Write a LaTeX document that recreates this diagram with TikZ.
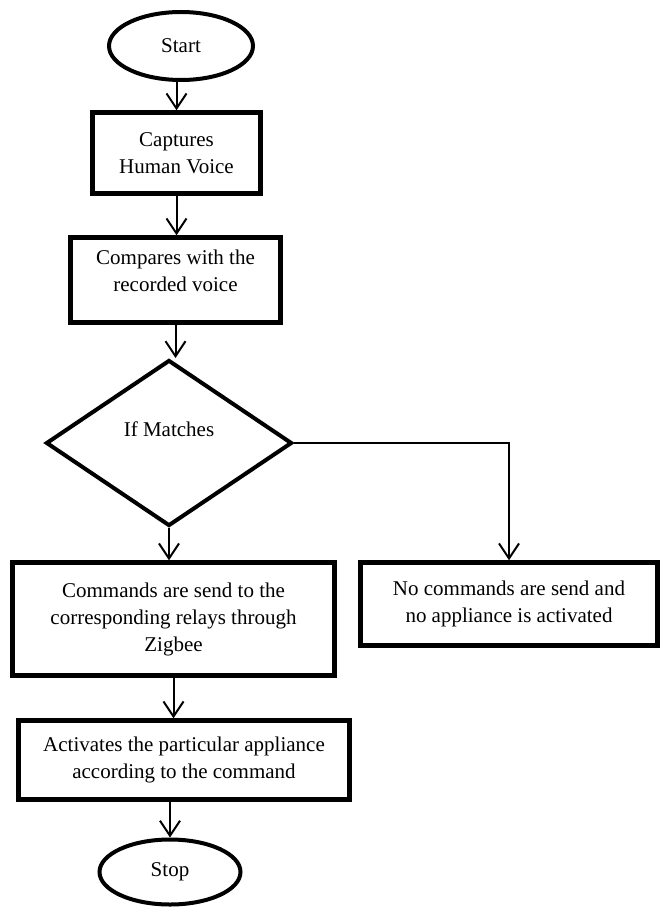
\documentclass[tikz,border=0pt]{standalone}
\usepackage{fontspec}
\setmainfont{Liberation Serif}
\usetikzlibrary{shapes.geometric,arrows.meta}
\begin{document}
\begin{tikzpicture}[x=1pt,y=-1pt,
  every node/.style={font=\fontsize{21}{27}\selectfont, align=center, inner sep=0pt},
  procbox/.style={draw, rectangle, line width=4.5pt},
  termin/.style={draw, ellipse, line width=4pt},
  decis/.style={draw, diamond, line width=4pt},
  arr/.style={line width=2pt, -{Straight Barb[length=15pt,width=20pt,line width=2pt]}},
  thinarr/.style={line width=1.8pt, -{Straight Barb[length=15pt,width=20pt,line width=2pt]}}
]
\useasboundingbox (0,0) rectangle (659,909);
\node[termin, minimum width=144pt, minimum height=68pt] (start) at (181,46) {Start};
\node[procbox, minimum width=168pt, minimum height=81pt] (cap) at (176.5,153) {Captures\\Human Voice};
\node[procbox, minimum width=210pt, minimum height=85pt] (cmp) at (175.5,280) {};
\node[anchor=center] (cmptext) at (175.5,271) {Compares with the\\recorded voice};
\node[decis, minimum width=246pt, minimum height=166pt] (dia) at (169,443) {};
\node (diatext) at (169,429) {If Matches};
\node[procbox, minimum width=322pt, minimum height=113pt] (cmd) at (173.5,619) {Commands are send to the\\corresponding relays through\\Zigbee};
\node[procbox, minimum width=297pt, minimum height=83pt] (nocmd) at (509,604) {No commands are send and\\no appliance is activated};
\node[procbox, minimum width=331pt, minimum height=79pt] (act) at (184,760) {Activates the particular appliance\\according to the command};
\node[termin, minimum width=141pt, minimum height=65pt] (stop) at (170,872) {Stop};

\draw[arr] (cap.north |- start.south) -- (cap.north);
\draw[arr] (cap.south) -- (cap.south |- cmp.north);
\draw[arr] (cmp.south) -- (cmp.south |- dia.north);
\draw[arr] (dia.south) -- (dia.south |- cmd.north);
\draw[thinarr] (dia.east) -| (nocmd.north);
\draw[arr] (cmd.south) -- (cmd.south |- act.north);
\draw[arr] (stop.north |- act.south) -- (stop.north);
\end{tikzpicture}
\end{document}
